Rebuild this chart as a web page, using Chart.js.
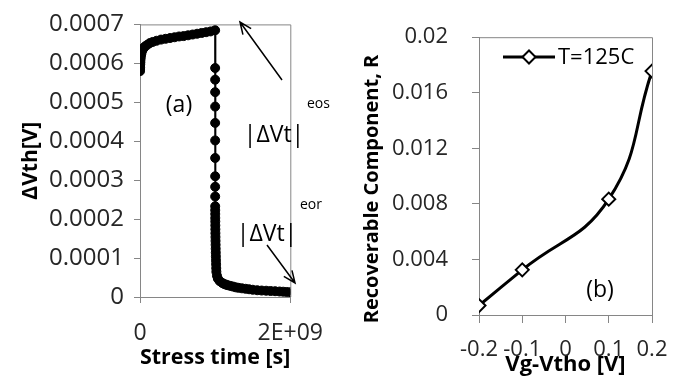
<!DOCTYPE html>
<html>
<head>
<meta charset="utf-8">
<script src="https://cdn.jsdelivr.net/npm/chart.js@4.4.1/dist/chart.umd.min.js"></script>
<style>
  body { margin: 0; background: #fff; width: 683px; height: 378px; position: relative; overflow: hidden; }
  canvas { position: absolute; top: 0; }
  #stressChart { left: 0; }
  #recoverChart { left: 340px; }
</style>
</head>
<body>
<canvas id="stressChart" width="340" height="378"></canvas>
<canvas id="recoverChart" width="343" height="378"></canvas>
<script>
// (a) stress phase: time [s] and threshold shift [V]
const stressTime = [0.5e6, 1e6, 2e6, 3e6, 5e6, 7e6, 1e7, 1.5e7, 2e7, 3e7, 4e7, 5e7, 7e7, 1e8, 1.3e8, 1.7e8,
  2.2e8, 2.8e8, 3.4e8, 4.0e8, 4.6e8, 5.2e8, 5.8e8, 6.4e8, 7.0e8, 7.6e8, 8.2e8, 8.8e8, 9.4e8, 1.0e9];
const stressShift = [0.00058, 0.000585, 0.00059, 0.000597, 0.000603, 0.00061, 0.000616, 0.000622, 0.000627,
  0.000633, 0.000637, 0.00064, 0.000644, 0.000648, 0.000652, 0.000655, 0.000658, 0.000661, 0.000663,
  0.000665, 0.000667, 0.000669, 0.00067, 0.000672, 0.000674, 0.000676, 0.000678, 0.00068, 0.000682, 0.000685];

// (a) recovery phase
const recoveryTime = [1.000001e9, 1.000002e9, 1.000004e9, 1.000008e9, 1.000016e9, 1.00003e9, 1.00006e9,
  1.00012e9, 1.0002e9, 1.0003e9, 1.0005e9, 1.0007e9, 1.001e9, 1.0013e9, 1.0017e9, 1.0022e9, 1.0028e9,
  1.0035e9, 1.0043e9, 1.0052e9, 1.0062e9, 1.0073e9, 1.0085e9, 1.0098e9, 1.0112e9, 1.0127e9, 1.0143e9,
  1.016e9, 1.024e9, 1.036e9, 1.06e9, 1.095e9, 1.119e9, 1.143e9, 1.167e9, 1.202e9, 1.238e9, 1.274e9,
  1.31e9, 1.357e9, 1.405e9, 1.452e9, 1.5e9, 1.56e9, 1.619e9, 1.679e9, 1.738e9, 1.798e9, 1.857e9,
  1.905e9, 1.952e9, 2.0e9];
const recoveryShift = [0.000588, 0.000558, 0.000526, 0.000489, 0.000447, 0.000402, 0.000357, 0.00031,
  0.000283, 0.000258, 0.000233, 0.000223, 0.000213, 0.000203, 0.000194, 0.000184, 0.000174, 0.000164,
  0.000154, 0.000144, 0.000134, 0.000124, 0.000114, 0.000104, 0.000094, 0.000084, 0.000074,
  0.000065, 0.0000546, 0.0000471, 0.0000409, 0.000036, 0.0000335, 0.0000318, 0.0000303, 0.0000285,
  0.0000268, 0.0000248, 0.0000236, 0.0000223, 0.0000211, 0.0000199, 0.0000186, 0.0000174, 0.0000166,
  0.0000161, 0.0000154, 0.0000149, 0.0000141, 0.0000136, 0.0000129, 0.0000124];

// (b) recoverable component vs gate overdrive
const gateBias = [-0.2, -0.1, 0.1, 0.2];
const recoverable = [0.00068, 0.00325, 0.00834, 0.01756];

// tick values
const stressXTicks = [0, 2e9];
const stressYTicks = [0, 0.0001, 0.0002, 0.0003, 0.0004, 0.0005, 0.0006, 0.0007];
const biasTicks = [-0.2, -0.1, 0, 0.1, 0.2];
const recoverTicks = [0, 0.004, 0.008, 0.012, 0.016, 0.02];

const axisColor = '#868686';
const textColor = '#262626';
const family = '"Open Sans", sans-serif';

function sci(v) {
  if (v === 0) return '0';
  const [m, e] = v.toExponential(0).split('e');
  const exp = Math.abs(+e).toString().padStart(2, '0');
  return m + 'E' + (+e < 0 ? '-' : '+') + exp;
}

function arrow(ctx, x1, y1, x2, y2) {
  const ang = Math.atan2(y2 - y1, x2 - x1);
  ctx.beginPath();
  ctx.moveTo(x1, y1);
  ctx.lineTo(x2, y2);
  ctx.moveTo(x2 - 13 * Math.cos(ang - 0.4), y2 - 13 * Math.sin(ang - 0.4));
  ctx.lineTo(x2, y2);
  ctx.lineTo(x2 - 13 * Math.cos(ang + 0.4), y2 - 13 * Math.sin(ang + 0.4));
  ctx.stroke();
}

// frame on top/right plus free labels, arrows and legend
function decorations(extra) {
  return {
    id: 'decorations',
    beforeDatasetsDraw(chart) {
      const { ctx, chartArea: a } = chart;
      ctx.save();
      ctx.strokeStyle = axisColor;
      ctx.lineWidth = 1;
      ctx.beginPath();
      ctx.moveTo(a.left, a.top + 0.5);
      ctx.lineTo(a.right + 0.5, a.top + 0.5);
      ctx.lineTo(a.right + 0.5, a.bottom);
      ctx.stroke();
      ctx.restore();
    },
    afterDraw(chart) {
      const ctx = chart.ctx;
      ctx.save();
      ctx.fillStyle = '#000';
      ctx.strokeStyle = '#000';
      ctx.textBaseline = 'middle';
      (extra.texts || []).forEach(t => {
        ctx.save();
        ctx.font = t.font;
        ctx.textAlign = t.align || 'center';
        ctx.translate(t.x, t.y);
        if (t.rotate) ctx.rotate(t.rotate);
        ctx.fillText(t.text, 0, 0);
        ctx.restore();
      });
      ctx.lineWidth = 1.5;
      (extra.arrows || []).forEach(a => arrow(ctx, a[0], a[1], a[2], a[3]));
      if (extra.legend) {
        const l = extra.legend;
        ctx.lineWidth = 3;
        ctx.beginPath();
        ctx.moveTo(l.x, l.y);
        ctx.lineTo(l.x + 52, l.y);
        ctx.stroke();
        ctx.fillStyle = '#fff';
        ctx.lineWidth = 2;
        Chart.helpers.drawPoint(ctx, { pointStyle: 'rectRot', radius: 6.5, borderWidth: 2, rotation: 0 }, l.x + 26, l.y);
        ctx.fillStyle = '#000';
        ctx.font = '22px ' + family;
        ctx.textAlign = 'left';
        ctx.fillText(l.text, l.x + 55, l.y + 1);
      }
      ctx.restore();
    }
  };
}

const stressPoints = stressTime.map((t, i) => ({ x: t, y: stressShift[i] }))
  .concat(recoveryTime.map((t, i) => ({ x: t, y: recoveryShift[i] })));

new Chart(document.getElementById('stressChart'), {
  type: 'scatter',
  data: {
    datasets: [{
      data: stressPoints,
      showLine: true,
      borderColor: '#000',
      backgroundColor: '#000',
      borderWidth: 2,
      pointRadius: 4.5,
      pointBorderWidth: 1,
      pointBorderColor: '#000',
      tension: 0
    }]
  },
  options: {
    responsive: false,
    animation: false,
    layout: { padding: { top: 15, right: 32, left: 0, bottom: 0 } },
    plugins: { legend: { display: false }, tooltip: { enabled: false } },
    scales: {
      x: {
        type: 'linear', min: 0, max: 2e9,
        afterBuildTicks: s => { s.ticks = stressXTicks.map(v => ({ value: v })); },
        afterFit: s => { s.height = 81; },
        ticks: { callback: v => sci(v), font: { family, size: 23 }, color: textColor, padding: 17, maxRotation: 0, autoSkip: false },
        grid: { drawOnChartArea: false, tickLength: 6, color: axisColor },
        border: { color: axisColor },
        title: { display: true, text: 'Stress time [s]', color: '#000', font: { family, size: 22, weight: 'bold' }, padding: { top: 0, bottom: 7 } }
      },
      y: {
        min: 0, max: 0.0007,
        afterBuildTicks: s => { s.ticks = stressYTicks.map(v => ({ value: v })); },
        afterFit: s => { s.width = 140; },
        ticks: { callback: v => v === 0 ? '0' : v.toFixed(4), font: { family, size: 24 }, color: textColor, padding: 10 },
        grid: { drawOnChartArea: false, tickLength: 6, color: axisColor },
        border: { color: axisColor },
        title: { display: true, text: 'ΔVth[V]', color: '#000', font: { family, size: 21, weight: 'bold' }, padding: { top: 18, bottom: 0 } }
      }
    }
  },
  plugins: [decorations({
    texts: [
      { text: '(a)', x: 179, y: 105, font: '23px ' + family },
      { text: 'eos', x: 307, y: 104, align: 'left', font: '14px ' + family },
      { text: '|ΔVt|', x: 274, y: 135, font: '23px ' + family },
      { text: 'eor', x: 300, y: 205, align: 'left', font: '14px ' + family },
      { text: '|ΔVt|', x: 267, y: 234, font: '23px ' + family }
    ],
    arrows: [[282, 80, 240, 22], [267, 245, 295, 283]]
  })]
});

new Chart(document.getElementById('recoverChart'), {
  type: 'scatter',
  data: {
    datasets: [{
      label: 'T=125C',
      data: gateBias.map((v, i) => ({ x: v, y: recoverable[i] })),
      showLine: true,
      borderColor: '#000',
      backgroundColor: '#fff',
      borderWidth: 3,
      pointStyle: 'rectRot',
      pointRadius: 6.5,
      pointBorderWidth: 2,
      pointBorderColor: '#000',
      pointBackgroundColor: '#fff',
      tension: 0.45
    }]
  },
  options: {
    responsive: false,
    animation: false,
    layout: { padding: { top: 21, right: 31, left: 0, bottom: 0 } },
    plugins: { legend: { display: false }, tooltip: { enabled: false } },
    scales: {
      x: {
        type: 'linear', min: -0.2, max: 0.2,
        afterBuildTicks: s => { s.ticks = biasTicks.map(v => ({ value: v })); },
        afterFit: s => { s.height = 63; },
        ticks: { callback: v => v === 0 ? '0' : v.toFixed(1), font: { family, size: 22 }, color: textColor, padding: 14, maxRotation: 0, autoSkip: false },
        grid: { drawOnChartArea: false, tickLength: 8, color: axisColor },
        border: { color: axisColor },
        title: { display: true, text: 'Vg-Vtho [V]', color: '#000', font: { family, size: 22, weight: 'bold' }, padding: { top: 0, bottom: 0 } }
      },
      y: {
        min: 0, max: 0.02,
        afterBuildTicks: s => { s.ticks = recoverTicks.map(v => ({ value: v })); },
        afterFit: s => { s.width = 139; },
        ticks: { callback: v => v === 0 ? '0' : String(+v.toFixed(3)), font: { family, size: 22 }, color: textColor, padding: 24 },
        grid: { drawOnChartArea: false, tickLength: 7, color: axisColor },
        border: { color: axisColor }
      }
    }
  },
  plugins: [decorations({
    texts: [
      { text: 'Recoverable Component, R', x: 32, y: 189, rotate: -Math.PI / 2, font: 'bold 20px ' + family },
      { text: '(b)', x: 260, y: 290, font: '23px ' + family }
    ],
    legend: { x: 163, y: 57, text: 'T=125C' }
  })]
});
</script>
</body>
</html>
